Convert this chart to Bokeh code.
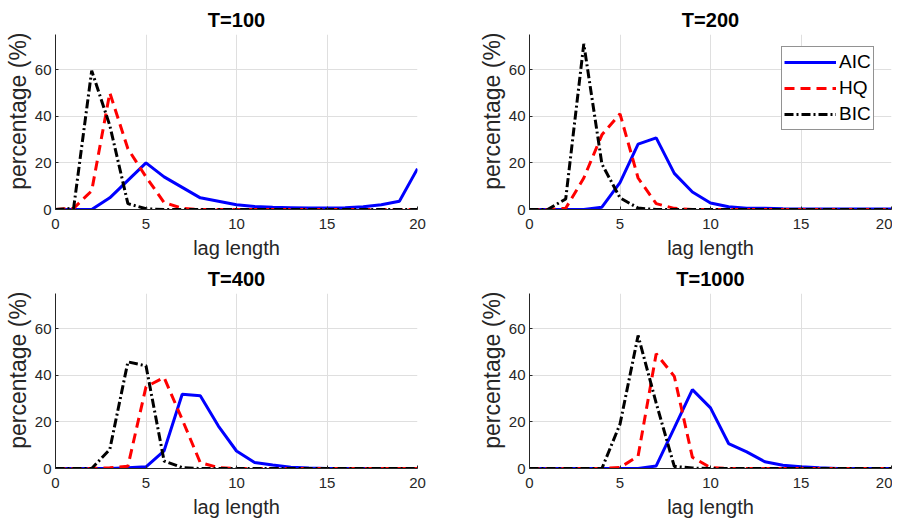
from bokeh.plotting import figure
from bokeh.layouts import column, row
from bokeh.models import ColumnDataSource, Legend, LegendItem, FixedTicker, Range1d, Title
from bokeh.embed import file_html
from bokeh.resources import INLINE

lags = list(range(21))

titles = ["T=100", "T=200", "T=400", "T=1000"]

aic_100 = [0, 0, 0, 5, 12.5, 20, 14, 9.5, 5, 3.5, 2, 1.3, 1, 0.8, 0.6, 0.6, 0.8, 1.2, 2, 3.5, 17.5]
hq_100 = [0, 0.5, 8, 50, 26, 14, 3, 0.5, 0, 0, 0, 0, 0, 0, 0, 0, 0, 0, 0, 0, 0]
bic_100 = [0, 0.5, 59.5, 36, 2.5, 0.3, 0, 0, 0, 0, 0, 0, 0, 0, 0, 0, 0, 0, 0, 0, 0]

aic_200 = [0, 0, 0, 0, 1, 11.5, 28, 30.7, 15.5, 7.5, 2.8, 1.2, 0.5, 0.5, 0.3, 0.2, 0.2, 0.2, 0.2, 0.2, 0.2]
hq_200 = [0, 0, 0.5, 13.5, 32, 41, 13.5, 2.5, 0.5, 0, 0, 0, 0, 0, 0, 0, 0, 0, 0, 0, 0]
bic_200 = [0, 0, 4.5, 71, 19.5, 5, 0.6, 0, 0, 0, 0, 0, 0, 0, 0, 0, 0, 0, 0, 0, 0]

aic_400 = [0, 0, 0, 0, 0.3, 0.7, 7.6, 31.8, 31.2, 18.2, 7.5, 2.6, 1.5, 0.5, 0.2, 0, 0, 0, 0, 0, 0]
hq_400 = [0, 0, 0, 0.3, 1, 35, 39, 21, 2.5, 0.4, 0, 0, 0, 0, 0, 0, 0, 0, 0, 0, 0]
bic_400 = [0, 0, 0, 8.2, 45.7, 44, 3.2, 0.4, 0, 0, 0, 0, 0, 0, 0, 0, 0, 0, 0, 0, 0]

aic_1000 = [0, 0, 0, 0, 0, 0, 0, 1.1, 17.4, 33.8, 26, 10.7, 7.1, 2.9, 1.4, 0.8, 0.3, 0, 0, 0, 0]
hq_1000 = [0, 0, 0, 0, 0, 0.4, 5.3, 49.2, 39.5, 4.8, 0.4, 0, 0, 0, 0, 0, 0, 0, 0, 0, 0]
bic_1000 = [0, 0, 0, 0, 0, 19, 57, 28, 0.9, 0.2, 0, 0, 0, 0, 0, 0, 0, 0, 0, 0, 0]

series = [
    (aic_100, hq_100, bic_100),
    (aic_200, hq_200, bic_200),
    (aic_400, hq_400, bic_400),
    (aic_1000, hq_1000, bic_1000),
]

x_ticks = [0, 5, 10, 15, 20]
y_ticks = [0, 20, 40, 60]

FONT = "Liberation Sans"
AXC = "#262626"
GRID = "#dfdfdf"


def make_panel(idx, left, right, top, bottom, legend=False):
    aic, hq, bic = series[idx]
    p = figure(frame_width=362, frame_height=175, output_backend="svg",
               toolbar_location=None, x_range=Range1d(0, 20), y_range=Range1d(0, 75),
               min_border_left=left, min_border_right=right,
               min_border_top=top, min_border_bottom=bottom)
    p.title.text = titles[idx]
    p.title.align = "center"
    p.title.text_font = FONT
    p.title.text_font_size = "20px"
    p.title.text_font_style = "bold"
    p.title.text_color = "#000000"
    p.title.standoff = 8
    p.outline_line_color = None
    p.background_fill_color = "white"
    p.border_fill_color = "white"

    src = ColumnDataSource(dict(x=lags, aic=aic, hq=hq, bic=bic))
    r1 = p.line("x", "aic", source=src, line_color="#0000ff", line_width=3)
    r2 = p.line("x", "hq", source=src, line_color="#ff0000", line_width=3, line_dash="10 6")
    r3 = p.line("x", "bic", source=src, line_color="#000000", line_width=3, line_dash="9 3 2 3")

    for ax in (p.xaxis[0], p.yaxis[0]):
        ax.axis_line_color = AXC
        ax.axis_line_width = 1
        ax.major_tick_line_color = AXC
        ax.major_tick_in = 3
        ax.major_tick_out = 0
        ax.minor_tick_line_color = None
        ax.major_label_text_font = FONT
        ax.major_label_text_font_size = "15px"
        ax.major_label_text_color = AXC
        ax.axis_label_text_font = FONT
        ax.axis_label_text_font_style = "normal"
        ax.axis_label_text_color = AXC
    p.xaxis.ticker = FixedTicker(ticks=x_ticks)
    p.yaxis.ticker = FixedTicker(ticks=y_ticks)
    p.xaxis.axis_label = "lag length"
    p.xaxis.axis_label_text_font_size = "20px"
    p.xaxis.major_label_standoff = 9
    p.yaxis.major_label_standoff = 4
    p.xaxis.axis_label_standoff = 5

    ylab = Title(text="percentage (%)", align="right", offset=-2,
                 text_font=FONT, text_font_size="23px", text_font_style="normal",
                 text_color=AXC, standoff=2)
    p.add_layout(ylab, "left")

    p.xgrid.grid_line_color = GRID
    p.ygrid.grid_line_color = GRID
    p.xgrid.ticker = FixedTicker(ticks=x_ticks)
    p.ygrid.ticker = FixedTicker(ticks=y_ticks)

    if legend:
        leg = Legend(items=[LegendItem(label="AIC", renderers=[r1]),
                            LegendItem(label="HQ", renderers=[r2]),
                            LegendItem(label="BIC", renderers=[r3])],
                     location=(252, 79))
        leg.label_text_font = FONT
        leg.label_text_font_size = "19px"
        leg.label_text_color = "#000000"
        leg.glyph_width = 52
        leg.glyph_height = 26
        leg.label_height = 26
        leg.label_standoff = 3
        leg.spacing = 0
        leg.padding = 2
        leg.margin = 0
        leg.border_line_color = AXC
        leg.border_line_width = 1
        leg.background_fill_color = "white"
        leg.background_fill_alpha = 1
        p.add_layout(leg, "center")
    return p


p1 = make_panel(0, 55, 56, 34, 52)
p2 = make_panel(1, 56, 1, 34, 52, legend=True)
p3 = make_panel(2, 55, 56, 29, 40)
p4 = make_panel(3, 56, 1, 29, 40)

layout = column(row(p1, p2), row(p3, p4))

open("out.html", "w").write(file_html(layout, INLINE))
